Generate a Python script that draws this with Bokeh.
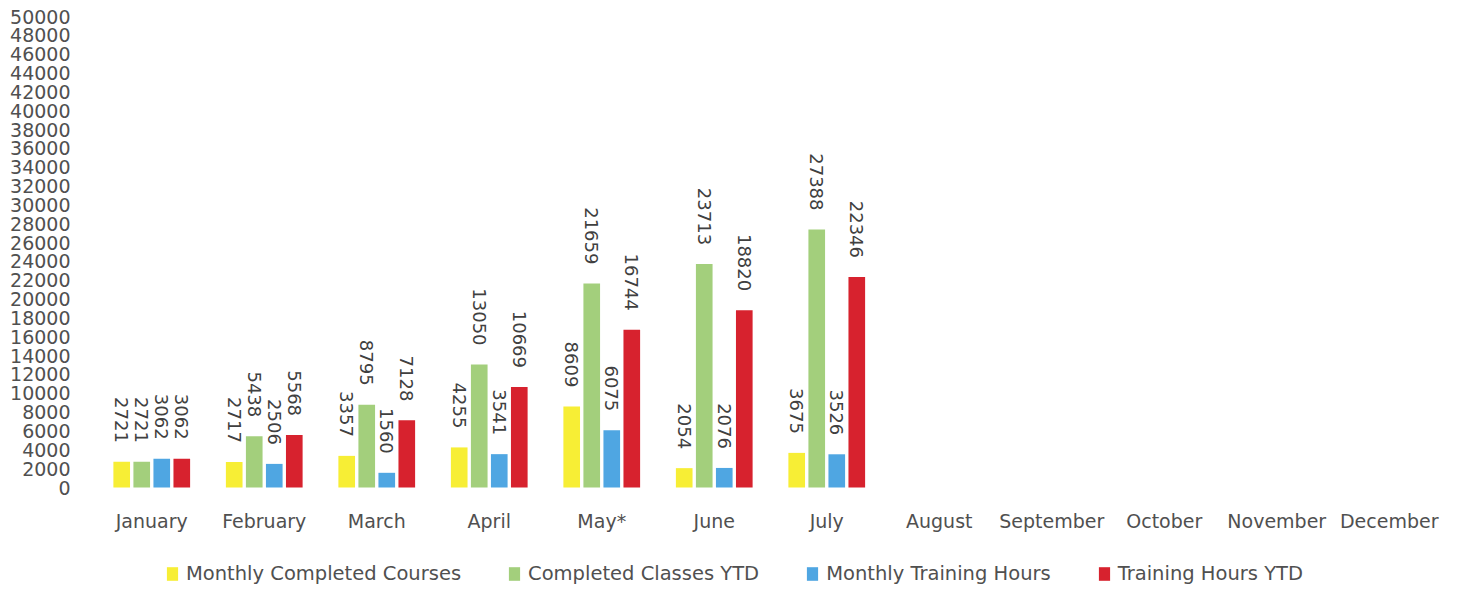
import math
from bokeh.plotting import figure
from bokeh.models import (ColumnDataSource, FactorRange, Range1d, FixedTicker,
                          Legend, LegendItem, BasicTickFormatter)
from bokeh.transform import dodge
from bokeh.core.properties import value
from bokeh.embed import file_html
from bokeh.resources import INLINE

months = ["January", "February", "March", "April", "May*", "June", "July",
          "August", "September", "October", "November", "December"]
data_months = ["January", "February", "March", "April", "May*", "June", "July"]
series_names = ["Monthly Completed Courses", "Completed Classes YTD",
                "Monthly Training Hours", "Training Hours YTD"]
monthly_courses = [2721, 2717, 3357, 4255, 8609, 2054, 3675]
classes_ytd = [2721, 5438, 8795, 13050, 21659, 23713, 27388]
monthly_hours = [3062, 2506, 1560, 3541, 6075, 2076, 3526]
hours_ytd = [3062, 5568, 7128, 10669, 16744, 18820, 22346]
y_ticks = list(range(0, 50001, 2000))
colors = ["#F7EE35", "#A3CF7C", "#4FA6E2", "#D7222E"]
keys = ["mc", "cy", "mh", "hy"]

src = ColumnDataSource(dict(month=data_months, mc=monthly_courses, cy=classes_ytd,
                            mh=monthly_hours, hy=hours_ytd,
                            mc_t=[str(v) for v in monthly_courses],
                            cy_t=[str(v) for v in classes_ytd],
                            mh_t=[str(v) for v in monthly_hours],
                            hy_t=[str(v) for v in hours_ytd]))

FONT = "DejaVu Sans"
# frame: y=50000 at 16px, y=0 at 487px, frame bottom at 590px
px_per_unit = 471 / 50000.0
y_bottom = -103 / px_per_unit
month_label_y = -33 / px_per_unit

p = figure(x_range=FactorRange(*months), y_range=Range1d(y_bottom, 50000),
           width=1450, height=592, output_backend="svg", toolbar_location=None,
           min_border_left=95, min_border_right=5, min_border_top=16,
           min_border_bottom=2, outline_line_color=None)
p.xgrid.visible = False
p.ygrid.visible = False
p.xaxis.visible = False

p.yaxis.ticker = FixedTicker(ticks=y_ticks)
p.yaxis.formatter = BasicTickFormatter(use_scientific=False)
ax = p.yaxis[0]
ax.axis_line_color = None
ax.major_tick_line_color = None
ax.minor_tick_line_color = None
ax.major_tick_out = 0
ax.major_tick_in = 0
ax.major_label_text_font = FONT
ax.major_label_text_font_size = "19px"
ax.major_label_text_color = "#505050"
ax.major_label_standoff = 25

# category labels
msrc = ColumnDataSource(dict(month=months, y=[month_label_y] * len(months)))
p.text(x="month", y="y", text="month", source=msrc, text_align="center",
       text_baseline="middle", text_font=value(FONT), text_font_size="19px",
       text_color="#505050")

step = 0.178
offsets = [-1.5 * step, -0.5 * step, 0.5 * step, 1.5 * step]
renderers = []
for k, off, col in zip(keys, offsets, colors):
    r = p.vbar(x=dodge("month", off, range=p.x_range), top=k, width=0.148,
               source=src, fill_color=col, line_color=None)
    renderers.append(r)
    p.text(x=dodge("month", off, range=p.x_range), y=k, text=k + "_t", source=src,
           angle=-math.pi / 2, text_align="right", text_baseline="middle",
           y_offset=-19, text_font=value(FONT), text_font_size="18px",
           text_color="#404040")

legend = Legend(items=[LegendItem(label=n, renderers=[r]) for n, r in zip(series_names, renderers)],
                orientation="horizontal", location=(70, 5), border_line_color=None,
                background_fill_alpha=0, padding=0, margin=0, spacing=46,
                glyph_width=14, glyph_height=17, label_standoff=7,
                label_text_font=FONT, label_text_font_size="19.5px",
                label_text_color="#505050")
p.add_layout(legend, "center")

open("out.html", "w").write(file_html(p, INLINE))
